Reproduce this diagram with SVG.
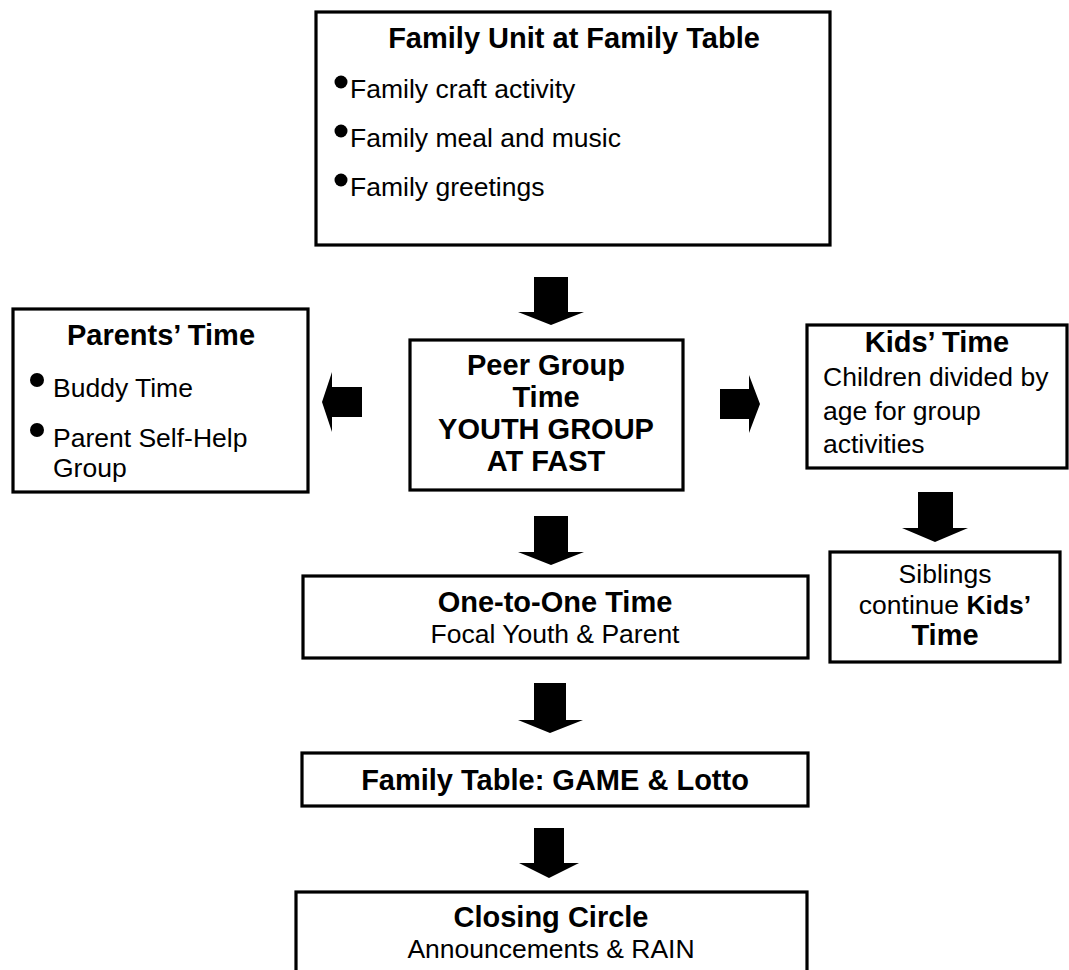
<svg xmlns="http://www.w3.org/2000/svg" width="1069" height="970" viewBox="0 0 1069 970">
<style>
.box{fill:#fff;stroke:#000;stroke-width:3.2}
.t{font-family:"Liberation Sans",Arial,sans-serif;font-size:29px;font-weight:bold;fill:#000}
.r{font-family:"Liberation Sans",Arial,sans-serif;font-size:26.5px;fill:#000}
.c{text-anchor:middle}
.arr{fill:#000}
</style>
<rect width="1069" height="970" fill="#fff"/>
<g id="family-unit">
<rect class="box" x="316" y="12" width="514" height="233"/>
<text class="t c" x="574" y="48">Family Unit at Family Table</text>
<circle cx="341" cy="82" r="6.5"/>
<text class="r" x="350" y="98">Family craft activity</text>
<circle cx="341" cy="131" r="6.5"/>
<text class="r" x="350" y="147">Family meal and music</text>
<circle cx="341" cy="180" r="6.5"/>
<text class="r" x="350" y="196">Family greetings</text>
</g>
<g id="parents-time">
<rect class="box" x="13" y="309" width="295" height="183"/>
<text class="t c" x="161" y="345">Parents’ Time</text>
<circle cx="37" cy="380" r="7"/>
<text class="r" x="53" y="397">Buddy Time</text>
<circle cx="37" cy="430" r="7"/>
<text class="r" x="53" y="447">Parent Self-Help</text>
<text class="r" x="53" y="477">Group</text>
</g>
<g id="peer-group">
<rect class="box" x="410" y="340" width="273" height="150"/>
<text class="t c" x="546" y="375">Peer Group</text>
<text class="t c" x="546" y="407">Time</text>
<text class="t c" x="546" y="439">YOUTH GROUP</text>
<text class="t c" x="546" y="471">AT FAST</text>
</g>
<g id="kids-time">
<rect class="box" x="807" y="325" width="260" height="143"/>
<text class="t c" x="937" y="352">Kids’ Time</text>
<text class="r" x="823" y="386">Children divided by</text>
<text class="r" x="823" y="420">age for group</text>
<text class="r" x="823" y="453">activities</text>
</g>
<g id="one-to-one">
<rect class="box" x="303" y="576" width="505" height="82"/>
<text class="t c" x="555" y="612">One-to-One Time</text>
<text class="r c" x="555" y="643">Focal Youth &amp; Parent</text>
</g>
<g id="siblings">
<rect class="box" x="830" y="552" width="230" height="110"/>
<text class="r c" x="945" y="583">Siblings</text>
<text class="r c" x="945" y="614">continue <tspan font-weight="bold">Kids’</tspan></text>
<text class="t c" x="945" y="645">Time</text>
</g>
<g id="family-table">
<rect class="box" x="302" y="753" width="506" height="53"/>
<text class="t c" x="555" y="790">Family Table: GAME &amp; Lotto</text>
</g>
<g id="closing-circle">
<rect class="box" x="296" y="892" width="511" height="100"/>
<text class="t c" x="551" y="927">Closing Circle</text>
<text class="r c" x="551" y="958">Announcements &amp; RAIN</text>
</g>
<g id="connectors">
<polygon class="arr" points="534,277 568,277 568,312 584,312 551,325 518,312 534,312"/>
<polygon class="arr" points="322,402 332,372 332,387 362,387 362,417 332,417 332,432"/>
<polygon class="arr" points="720,389 749,389 749,375 760,404 749,433 749,419 720,419"/>
<polygon class="arr" points="534,516 568,516 568,552 584,552 551,565 518,552 534,552"/>
<polygon class="arr" points="918,492 953,492 953,528 968,528 935,542 902,528 918,528"/>
<polygon class="arr" points="534,683 566,683 566,720 583,720 550,733 518,720 534,720"/>
<polygon class="arr" points="534,828 564,828 564,863 579,863 549,878 519,863 534,863"/>
</g>
</svg>
